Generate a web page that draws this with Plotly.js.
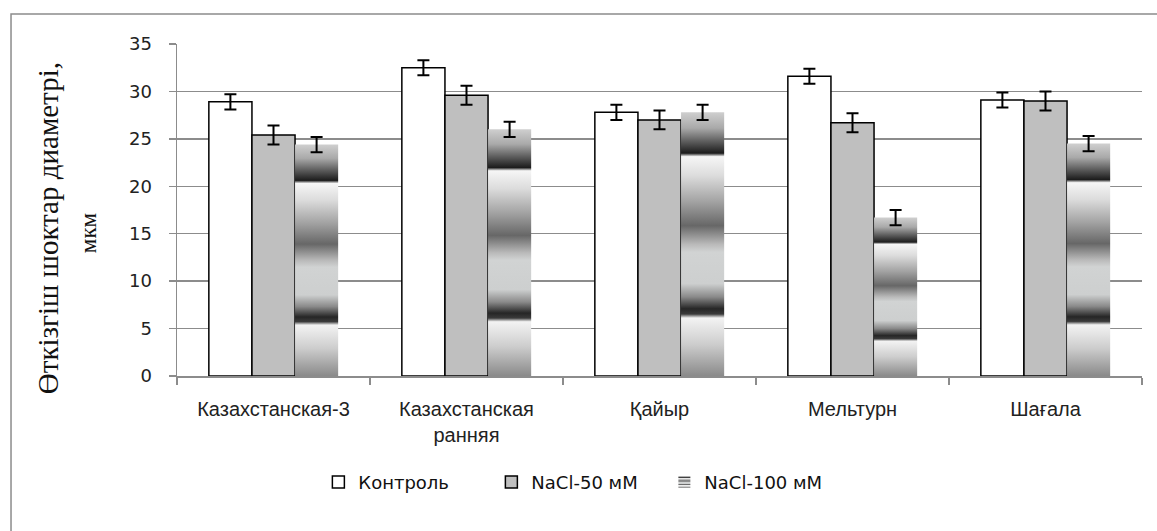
<!DOCTYPE html>
<html>
<head>
<meta charset="utf-8">
<script src="https://cdn.plot.ly/plotly-3.0.1.min.js"></script>
<style>
  html, body { margin: 0; padding: 0; background: #fff; }
  #chart { width: 1157px; height: 531px; }
</style>
</head>
<body>
<div id="chart"></div>
<script>
// ---- data ----
const categories = ['Казахстанская-3', 'Казахстанская ранняя', 'Қайыр', 'Мельтурн', 'Шағала'];
const tickLabels = ['Казахстанская-3', 'Казахстанская<br>ранняя', 'Қайыр', 'Мельтурн', 'Шағала'];
const seriesNames = ['Контроль', 'NaCl-50 мМ', 'NaCl-100 мМ'];
const control    = [28.9, 32.5, 27.8, 31.6, 29.1];
const nacl50     = [25.4, 29.6, 27.0, 26.7, 29.0];
const nacl100    = [24.4, 26.0, 27.8, 16.7, 24.5];
const controlErr = [0.8, 0.8, 0.8, 0.8, 0.8];
const nacl50Err  = [1.0, 1.0, 1.0, 1.0, 1.0];
const nacl100Err = [0.8, 0.8, 0.8, 0.8, 0.8];
const yTicks = [0, 5, 10, 15, 20, 25, 30, 35];
const yTitleLine1 = 'Өткізгіш шоктар диаметрі,';
const yTitleLine2 = 'мкм';

const errStyle = { type: 'data', visible: true, color: '#000', thickness: 2, width: 6 };

const traces = [
  {
    type: 'bar', name: seriesNames[0], x: categories, y: control,
    marker: { color: '#ffffff', line: { color: '#000', width: 1.5 } },
    error_y: Object.assign({ array: controlErr }, errStyle)
  },
  {
    type: 'bar', name: seriesNames[1], x: categories, y: nacl50,
    marker: { color: '#bfbfbf', line: { color: '#000', width: 1.5 } },
    error_y: Object.assign({ array: nacl50Err }, errStyle)
  },
  {
    type: 'bar', name: seriesNames[2], x: categories, y: nacl100,
    marker: { color: '#a6a6a6', line: { color: 'rgba(0,0,0,0)', width: 0 } },
    error_y: Object.assign({ array: nacl100Err }, errStyle)
  }
];

const nb = n => '&nbsp;'.repeat(n);

const layout = {
  width: 1157, height: 531,
  margin: { l: 177, r: 15, t: 44, b: 155 },
  paper_bgcolor: '#ffffff', plot_bgcolor: '#ffffff',
  barmode: 'group', bargap: 0.33, bargroupgap: 0,
  showlegend: true,
  xaxis: {
    type: 'category',
    tickvals: categories, ticktext: tickLabels,
    tickson: 'boundaries', ticks: 'outside', ticklen: 7, tickcolor: '#8c8c8c', tickwidth: 1.5,
    showline: true, linecolor: '#8c8c8c', linewidth: 1.5,
    showgrid: false, zeroline: false,
    tickfont: { family: '"Liberation Sans", Arial, sans-serif', size: 20, color: '#222' },
    ticklabelstandoff: 14
  },
  yaxis: {
    range: [0, 35], tickvals: yTicks,
    ticks: 'outside', ticklen: 7, tickcolor: '#8c8c8c', tickwidth: 1.5,
    showline: true, linecolor: '#8c8c8c', linewidth: 1.5,
    showgrid: true, gridcolor: '#8c8c8c', gridwidth: 1.5,
    zeroline: false,
    tickfont: { family: '"DejaVu Sans", "Open Sans", sans-serif', size: 18, color: '#222' },
    ticklabelstandoff: 13,
    title: {
      text: yTitleLine1 + nb(5) + '<br><span style="font-size:23px">' + yTitleLine2 + nb(8) + '</span>',
      font: { family: '"Liberation Serif", "Times New Roman", serif', size: 29, color: '#111' },
      standoff: 24
    }
  },
  legend: {
    orientation: 'h', x: 0.1465, xanchor: 'left', y: -0.32, yanchor: 'middle',
    font: { family: '"DejaVu Sans", "Open Sans", sans-serif', size: 18, color: '#111' },
    itemwidth: 30, entrywidth: 128, traceorder: 'normal',
    bgcolor: 'rgba(0,0,0,0)'
  },
  shapes: [
    { type: 'rect', xref: 'paper', yref: 'paper',
      x0: -0.172, x1: 1.02, y0: -0.48, y1: 1.0904,
      line: { color: '#8c8c8c', width: 1.5 }, fillcolor: 'rgba(0,0,0,0)', layer: 'below' }
  ]
};

function applyGradient(gd) {
  const svg = gd.querySelector('svg.main-svg');
  if (!svg) return;
  const ns = 'http://www.w3.org/2000/svg';
  let defs = svg.querySelector('defs');
  if (!defs) { defs = document.createElementNS(ns, 'defs'); svg.insertBefore(defs, svg.firstChild); }
  if (!svg.querySelector('#nacl100grad')) {
    const g = document.createElementNS(ns, 'linearGradient');
    g.setAttribute('id', 'nacl100grad');
    g.setAttribute('x1', '0'); g.setAttribute('y1', '0');
    g.setAttribute('x2', '0'); g.setAttribute('y2', '1');
    const stops = [
      [0.00, '#cfcfcf'], [0.06, '#a9a9a9'], [0.11, '#5e5e5e'], [0.155, '#1c1c1c'],
      [0.168, '#f6f6f6'], [0.24, '#dcdcdc'], [0.34, '#a2a2a2'], [0.43, '#676767'],
      [0.50, '#b9b9b9'], [0.53, '#d1d3d3'], [0.65, '#cdcfcf'], [0.70, '#8a8a8a'],
      [0.745, '#262626'], [0.765, '#3a3a3a'], [0.78, '#f3f3f3'], [0.88, '#cdcdcd'],
      [1.00, '#8a8a8a']
    ];
    stops.forEach(s => {
      const st = document.createElementNS(ns, 'stop');
      st.setAttribute('offset', s[0]);
      st.setAttribute('stop-color', s[1]);
      g.appendChild(st);
    });
    defs.appendChild(g);
  }
  const barTraces = gd.querySelectorAll('.barlayer .trace');
  if (barTraces[2]) {
    barTraces[2].querySelectorAll('.point path').forEach(p => { p.style.fill = 'url(#nacl100grad)'; });
  }
  const legTraces = gd.querySelectorAll('.legend .traces');
  if (legTraces[2]) {
    legTraces[2].querySelectorAll('.legendpoints path').forEach(p => { p.style.fill = 'url(#nacl100grad)'; p.style.stroke = 'none'; });
  }
}

Plotly.newPlot('chart', traces, layout, { displayModeBar: false, staticPlot: true })
  .then(gd => applyGradient(gd));
</script>
</body>
</html>
